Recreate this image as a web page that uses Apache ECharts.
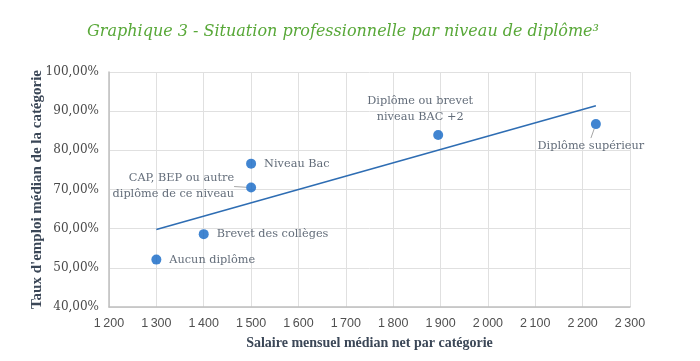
<!DOCTYPE html>
<html>
<head>
<meta charset="utf-8">
<script src="https://cdn.jsdelivr.net/npm/echarts@6/dist/echarts.min.js"></script>
<style>html,body{margin:0;padding:0;background:#fff}#c{width:700px;height:361px}</style>
</head>
<body>
<div id="c"></div>
<script>
// Data
const categories = ["Aucun diplôme", "Brevet des collèges", "CAP, BEP ou autre\ndiplôme de ce niveau", "Niveau Bac", "Diplôme ou brevet\nniveau BAC +2", "Diplôme supérieur"];
const salaries = [1300, 1400, 1500, 1500, 1895, 2228];
const employmentRates = [52.1, 58.6, 70.5, 76.6, 83.9, 86.7];
const trendX = [1300, 2228];
const trendY = [59.8, 91.4];
const xTicks = [1200, 1300, 1400, 1500, 1600, 1700, 1800, 1900, 2000, 2100, 2200, 2300];
const yTicks = [40, 50, 60, 70, 80, 90, 100];

const labelCfg = [
  {position: 'right', distance: 8},
  {position: 'right', distance: 8},
  {position: 'left', distance: 12},
  {position: 'right', distance: 8},
  {position: 'top', distance: 5},
  {position: 'bottom', distance: 9}
];
const labelShift = [[0,0],[0,0],[0,-1],[0,0],[-18,0],[-5,0]];

const chart = echarts.init(document.getElementById('c'));
const textColor = '#3b4757';
chart.setOption({
  animation: false,
  title: {
    text: 'Graphique 3 - Situation professionnelle par niveau de diplôme³',
    left: 338, top: 19, textAlign: 'center',
    textStyle: {fontFamily: 'DejaVu Serif', fontStyle: 'italic', fontWeight: 'normal', fontSize: 16, color: '#58a838'}
  },
  grid: {left: 109, right: 70, top: 72, bottom: 54},
  xAxis: {
    type: 'value', min: xTicks[0], max: xTicks[xTicks.length-1], interval: 100,
    name: 'Salaire mensuel médian net par catégorie', nameLocation: 'middle', nameGap: 29,
    nameTextStyle: {fontFamily: 'Liberation Serif', fontWeight: 'bold', fontSize: 14, color: textColor},
    axisLine: {lineStyle: {color: '#bfbfbf', width: 1.5}},
    axisTick: {show: false},
    splitLine: {show: true, lineStyle: {color: '#e0e0e0'}},
    axisLabel: {
      margin: 10, color: '#505050', fontFamily: 'Liberation Sans', fontSize: 12.5,
      formatter: v => { const s = String(v); return s.length > 3 ? s.slice(0, s.length-3) + '\u2009' + s.slice(-3) : s; }
    }
  },
  yAxis: {
    type: 'value', min: yTicks[0], max: yTicks[yTicks.length-1], interval: 10,
    name: "Taux d'emploi médian de la catégorie", nameLocation: 'middle', nameGap: 64,
    nameMoveOverlap: false,
    nameTextStyle: {fontFamily: 'Liberation Serif', fontWeight: 'bold', fontSize: 15, color: textColor},
    axisLine: {show: true, lineStyle: {color: '#bfbfbf', width: 1.5}},
    axisTick: {show: false},
    splitLine: {show: true, lineStyle: {color: '#e0e0e0'}},
    axisLabel: {
      margin: 10, color: '#4a4a4a', fontFamily: 'DejaVu Serif', fontSize: 12,
      formatter: v => v.toFixed(2).replace('.', ',') + '%'
    }
  },
  series: [
    {
      type: 'line',
      data: trendX.map((x, i) => [x, trendY[i]]),
      showSymbol: false, symbol: 'none',
      lineStyle: {color: '#2e6db3', width: 1.6},
      z: 2
    },
    {
      type: 'scatter',
      symbolSize: 10,
      itemStyle: {color: '#1266c6'},
      data: salaries.map((x, i) => ({
        value: [x, employmentRates[i]],
        name: categories[i],
        label: {
          show: true, formatter: categories[i],
          position: labelCfg[i].position, distance: labelCfg[i].distance,
          align: labelCfg[i].position === 'right' ? 'left' : (labelCfg[i].position === 'left' ? 'right' : 'center'),
          color: textColor, fontFamily: 'DejaVu Serif', fontSize: 11.3, lineHeight: 16
        },
        labelLine: {show: i === 2 || i === 5, lineStyle: {color: '#a6a6a6', width: 1}}
      })),
      label: {show: true, color: textColor},
      labelLayout: p => ({dx: labelShift[p.dataIndex][0], dy: labelShift[p.dataIndex][1]}),
      z: 3
    }
  ]
});
</script>
</body>
</html>
